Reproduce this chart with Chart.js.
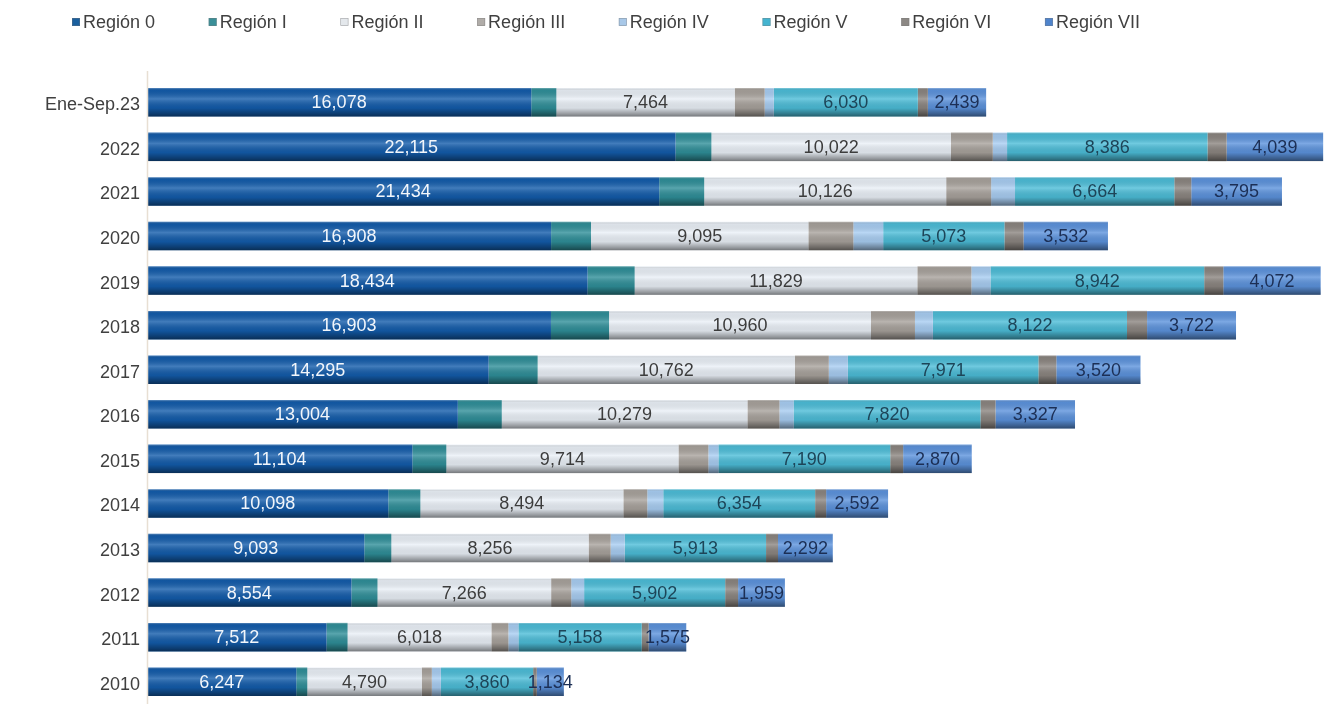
<!DOCTYPE html>
<html>
<head>
<meta charset="utf-8">
<script src="https://cdn.jsdelivr.net/npm/chart.js@4.4.0/dist/chart.umd.min.js"></script>
<style>
  html, body { margin: 0; padding: 0; background: #ffffff; }
  #wrap { position: relative; width: 1325px; height: 704px; }
</style>
</head>
<body>
<div id="wrap"><canvas id="c" width="1325" height="704"></canvas></div>
<script>
const categories = ['Ene-Sep.23', '2022', '2021', '2020', '2019', '2018', '2017', '2016', '2015', '2014', '2013', '2012', '2011', '2010'];

const region0   = [16078, 22115, 21434, 16908, 18434, 16903, 14295, 13004, 11104, 10098, 9093, 8554, 7512, 6247];
const regionI   = [1050, 1500, 1880, 1670, 1970, 2430, 2050, 1840, 1420, 1340, 1130, 1090, 880, 460];
const regionII  = [7464, 10022, 10126, 9095, 11829, 10960, 10762, 10279, 9714, 8494, 8256, 7266, 6018, 4790];
const regionIII = [1250, 1750, 1880, 1880, 2260, 1840, 1420, 1340, 1250, 1000, 920, 840, 710, 420];
const regionIV  = [380, 600, 1000, 1250, 800, 750, 800, 590, 420, 670, 590, 540, 420, 380];
const regionV   = [6030, 8386, 6664, 5073, 8942, 8122, 7971, 7820, 7190, 6354, 5913, 5902, 5158, 3860];
const regionVI  = [420, 800, 710, 800, 800, 840, 750, 630, 540, 460, 500, 540, 290, 150];
const regionVII = [2439, 4039, 3795, 3532, 4072, 3722, 3520, 3327, 2870, 2592, 2292, 1959, 1575, 1134];

const seriesNames = ['Región 0', 'Región I', 'Región II', 'Región III', 'Región IV', 'Región V', 'Región VI', 'Región VII'];
const seriesData = [region0, regionI, regionII, regionIII, regionIV, regionV, regionVI, regionVII];
const seriesColors = ['#135cab', '#2f8f99', '#eaf0f7', '#a8a29c', '#a8cdf2', '#4cbdd8', '#8b8580', '#5c93dd'];
const legendColors = ['#1a5f9e', '#3a8f98', '#e4e8ec', '#b0aca8', '#a8c8e8', '#44b4d0', '#8c8884', '#4f84cc'];
const labelColors = ['#f2f6fb', null, '#3c3c3c', null, null, '#1d4558', null, '#1c2f55'];

const FONT = '"Liberation Sans", Arial, sans-serif';

const customLegend = {
  id: 'customLegend',
  afterDraw(chart) {
    const ctx = chart.ctx;
    ctx.save();
    ctx.font = '18px ' + FONT;
    ctx.textBaseline = 'middle';
    ctx.textAlign = 'left';
    const box = 8, gapBT = 3;
    const widths = seriesNames.map(n => box + gapBT + ctx.measureText(n).width);
    const left = 72, right = 1140;
    const total = widths.reduce((a, b) => a + b, 0);
    const gap = (right - left - total) / (seriesNames.length - 1);
    let x = left;
    const y = 22;
    seriesNames.forEach((n, i) => {
      ctx.fillStyle = legendColors[i];
      ctx.fillRect(x, y - box / 2, box, box);
      ctx.strokeStyle = 'rgba(120,120,120,0.6)';
      ctx.lineWidth = 0.6;
      ctx.strokeRect(x + 0.3, y - box / 2 + 0.3, box - 0.6, box - 0.6);
      ctx.fillStyle = '#404040';
      ctx.fillText(n, x + box + gapBT, y + 1);
      x += widths[i] + gap;
    });
    ctx.restore();
  }
};

const barDecor = {
  id: 'barDecor',
  afterDatasetsDraw(chart) {
    const ctx = chart.ctx;
    const area = chart.chartArea;
    ctx.save();
    ctx.beginPath();
    ctx.rect(area.left, area.top, area.right - area.left, area.bottom - area.top);
    ctx.clip();
    chart.data.datasets.forEach((ds, di) => {
      const meta = chart.getDatasetMeta(di);
      meta.data.forEach((el) => {
        const x0 = Math.min(el.x, el.base), x1 = Math.max(el.x, el.base);
        const top = el.y - el.height / 2, bot = el.y + el.height / 2;
        const g = ctx.createLinearGradient(0, top, 0, bot);
        g.addColorStop(0, 'rgba(255,255,255,0.35)');
        g.addColorStop(0.08, 'rgba(0,0,0,0.06)');
        g.addColorStop(0.38, 'rgba(255,255,255,0.2)');
        g.addColorStop(0.7, 'rgba(0,0,0,0.08)');
        g.addColorStop(0.9, 'rgba(0,0,0,0.35)');
        g.addColorStop(1, 'rgba(0,0,0,0.5)');
        ctx.fillStyle = g;
        ctx.fillRect(x0, top, x1 - x0, bot - top);
      });
    });
    ctx.restore();

    ctx.save();
    ctx.font = '18px ' + FONT;
    ctx.textAlign = 'center';
    ctx.textBaseline = 'middle';
    chart.data.datasets.forEach((ds, di) => {
      if (!labelColors[di]) return;
      const meta = chart.getDatasetMeta(di);
      meta.data.forEach((el, i) => {
        const v = ds.data[i];
        const cx = (el.x + el.base) / 2;
        ctx.fillStyle = labelColors[di];
        ctx.fillText(v.toLocaleString('en-US'), cx, el.y + 1);
      });
    });
    ctx.restore();

    const ys = chart.scales.y;
    ctx.save();
    ctx.strokeStyle = '#e8dfd3';
    ctx.lineWidth = 1.5;
    ctx.beginPath();
    ctx.moveTo(ys.right + 0.5, area.top - 9);
    ctx.lineTo(ys.right + 0.5, area.bottom);
    ctx.stroke();
    ctx.restore();
  }
};

const datasets = seriesNames.map((name, i) => ({
  label: name,
  data: seriesData[i],
  backgroundColor: seriesColors[i],
  borderWidth: 0,
  categoryPercentage: 0.8,
  barPercentage: 0.8
}));

new Chart(document.getElementById('c'), {
  type: 'bar',
  data: { labels: categories, datasets },
  options: {
    indexAxis: 'y',
    responsive: false,
    animation: false,
    layout: { padding: { top: 80, left: 0, right: 0, bottom: 0 } },
    scales: {
      x: { stacked: true, display: false, min: 0, max: 49290, grid: { display: false } },
      y: {
        stacked: true,
        grid: { display: false, drawTicks: false },
        border: { display: false },
        ticks: { color: '#404040', font: { family: FONT, size: 18 }, padding: 7, labelOffset: 3 },
        afterFit(scale) {
          scale.width = 147;
          scale.paddingTop = 0;
          scale.paddingBottom = 0;
        }
      }
    },
    plugins: {
      legend: { display: false },
      tooltip: { enabled: false }
    }
  },
  plugins: [barDecor, customLegend]
});
</script>
</body>
</html>
